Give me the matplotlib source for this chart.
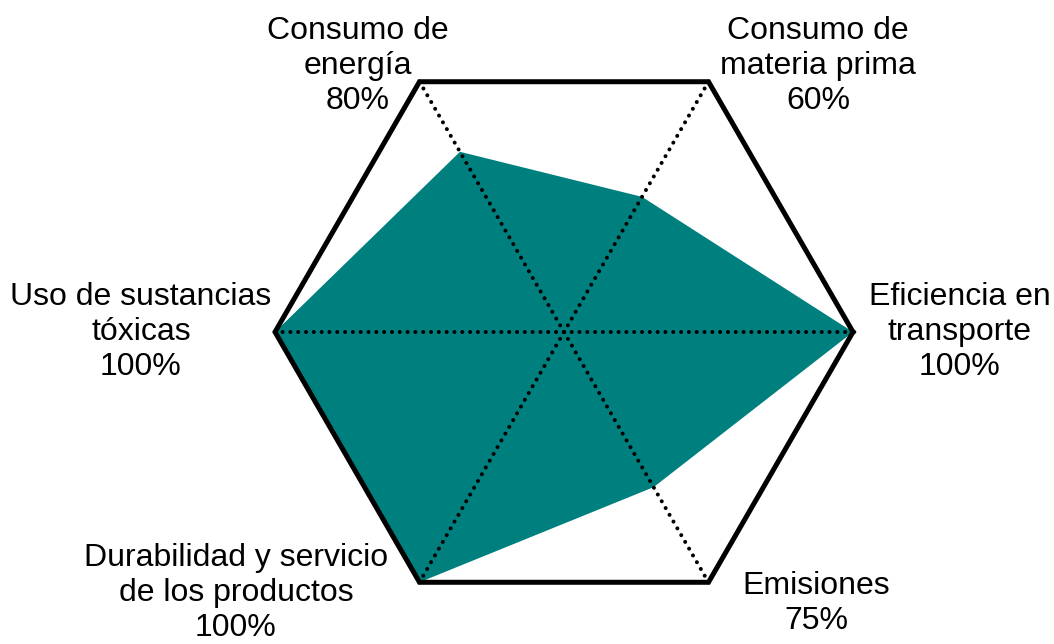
import matplotlib.pyplot as plt
import numpy as np

# ejes en orden antihorario desde la derecha
categorias = ['Eficiencia en\ntransporte', 'Consumo de\nmateria prima', 'Consumo de\nenergía',
              'Uso de sustancias\ntóxicas', 'Durabilidad y servicio\nde los productos', 'Emisiones']
porcentajes = ['100%', '60%', '80%', '100%', '100%', '75%']
# radio dibujado de cada punto (1 = borde del hexagono)
valores = [1.0, 0.54, 0.72, 1.0, 1.0, 0.62]

# posiciones de las etiquetas
pos_etiquetas = [(1.37, 0.0), (0.879, 0.92), (-0.713, 0.92),
                 (-1.464, 0.0), (-1.135, -0.903), (0.872, -0.939)]

plt.rcParams['font.family'] = ['Liberation Sans', 'DejaVu Sans']

ang = np.deg2rad(np.arange(len(categorias)) * 60)
ang_c = np.append(ang, ang[0])
v = np.array(valores + valores[:1])

fig = plt.figure(figsize=(10.54, 6.44), dpi=100)
ax = fig.add_axes([0, 0, 1, 1])

ax.fill(v * np.cos(ang_c), v * np.sin(ang_c), color='#007F7F', lw=0, zorder=1)

for a in ang[:3]:
    ax.plot([np.cos(a), -np.cos(a)], [np.sin(a), -np.sin(a)], color='black', lw=2.9,
            linestyle=(0, (0.01, 1.93)), dash_capstyle='round', zorder=2)

ax.plot(np.cos(ang_c), np.sin(ang_c), color='black', lw=3.6, solid_joinstyle='miter', zorder=3)

for cat, p, (x, y) in zip(categorias, porcentajes, pos_etiquetas):
    ax.text(x, y, cat + '\n' + p, ha='center', va='center', fontsize=23, linespacing=1.22)

ax.set_xlim(-564 / 289, (1054 - 564) / 289)
ax.set_ylim(-(644 - 332) / 289, 332 / 289)
ax.set_aspect('equal')
ax.axis('off')

plt.savefig('out.png')
